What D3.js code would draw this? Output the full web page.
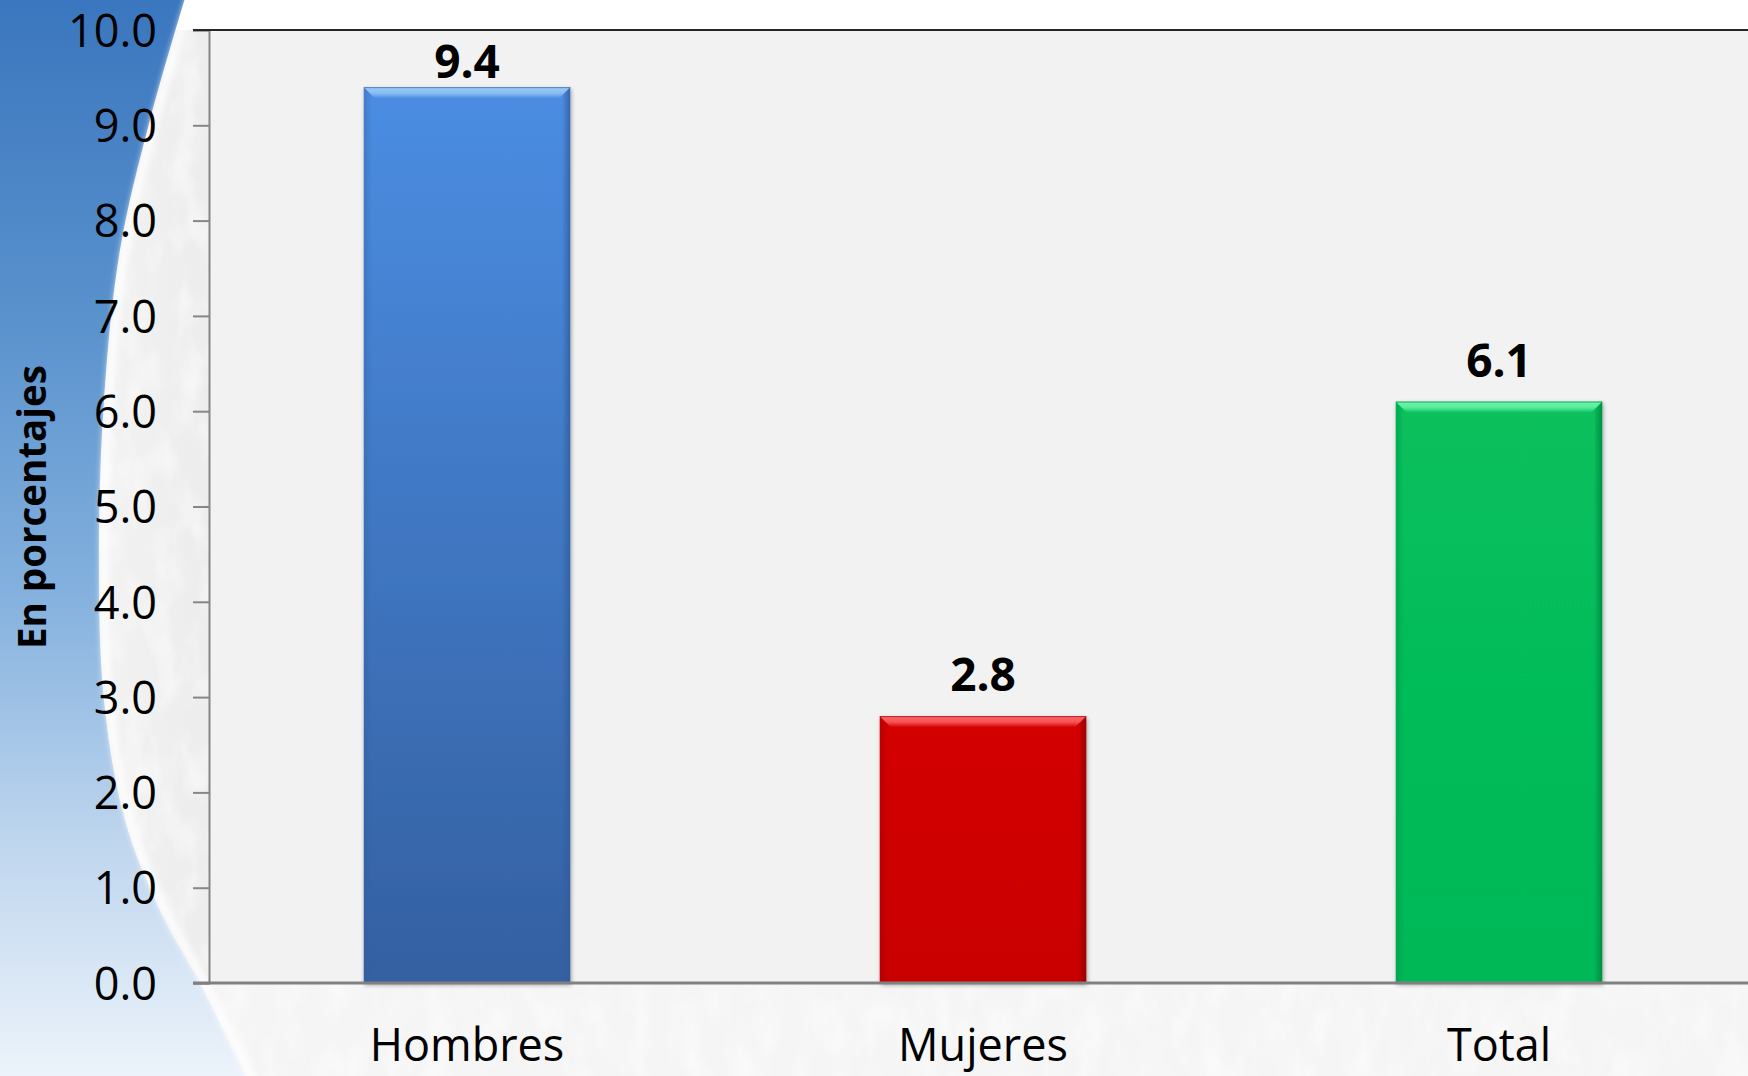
<!DOCTYPE html>
<html>
<head>
<meta charset="utf-8">
<script src="https://cdn.jsdelivr.net/npm/d3@7"></script>
<style>
  html, body { margin: 0; padding: 0; background: #ffffff; overflow: hidden; }
  svg { display: block; }
  text { font-family: "Open Sans", "Noto Sans", sans-serif; }
</style>
</head>
<body>
<svg id="chart" width="1748" height="1076"></svg>
<script>
// ---- data ----
const categories = ["Hombres", "Mujeres", "Total"];
const values = [9.4, 2.8, 6.1];
const yTicks = [0, 1, 2, 3, 4, 5, 6, 7, 8, 9, 10];
const yTitle = "En porcentajes";
const barTop = ["#4b8de2", "#d40000", "#07c05c"];
const barBottom = ["#3460a1", "#c90000", "#05b857"];
const bevelLight = ["#9ccaf8", "#ff6a6a", "#6cf8ac"];
const bevelDark = ["#2f5d9c", "#8c0000", "#03843f"];

const W = 1748, H = 1076;
const plot = { left: 209, top: 30, right: 1757, bottom: 983 };

const svg = d3.select("#chart");
const defs = svg.append("defs");

// ---- background ----
const bg = defs.append("linearGradient").attr("id", "bgBlue")
  .attr("x1", 0).attr("y1", 0).attr("x2", 0).attr("y2", 1);
[["0", "#3a76be"], ["0.3", "#5a92cd"], ["0.55", "#84b1de"], ["0.78", "#bfd6ee"], ["1", "#eef4fb"]]
  .forEach(([o, c]) => bg.append("stop").attr("offset", o).attr("stop-color", c));

const grayG = defs.append("linearGradient").attr("id", "bgGray")
  .attr("x1", 0).attr("y1", 0).attr("x2", 1).attr("y2", 0);
[["0", "#f2f2f2"], ["0.2", "#e2e2e2"], ["1", "#dadada"]]
  .forEach(([o, c]) => grayG.append("stop").attr("offset", o).attr("stop-color", c));

const noise = defs.append("filter").attr("id", "noise").attr("x", 0).attr("y", 0).attr("width", 1).attr("height", 1);
noise.append("feTurbulence").attr("type", "fractalNoise").attr("baseFrequency", "0.04 0.02").attr("numOctaves", 3).attr("seed", 4).attr("result", "t");
noise.append("feColorMatrix").attr("in", "t").attr("type", "matrix")
  .attr("values", "0 0 0 0 1  0 0 0 0 1  0 0 0 0 1  0 0 0 1.1 -0.45").attr("result", "w");
noise.append("feComposite").attr("in", "w").attr("in2", "SourceGraphic").attr("operator", "in").attr("result", "wn");
noise.append("feMerge").call(m => { m.append("feMergeNode").attr("in", "SourceGraphic"); m.append("feMergeNode").attr("in", "wn"); });

const glowF = defs.append("filter").attr("id", "glow").attr("x", "-50%").attr("y", "-5%").attr("width", "200%").attr("height", "110%");
glowF.append("feGaussianBlur").attr("stdDeviation", 3);

const edgePts = [[186, -5], [150, 120], [120, 250], [104, 400], [99, 550], [104, 700], [125, 820], [160, 910], [200, 983], [250, 1085]];
const edgeLine = d3.line().curve(d3.curveCatmullRom);

svg.append("rect").attr("x", 0).attr("y", 0).attr("width", W).attr("height", H).attr("fill", "#ffffff");
svg.append("path")
  .attr("d", edgeLine(edgePts) + `L${W},1085L${W},-5Z`)
  .attr("fill", "url(#bgGray)").attr("filter", "url(#noise)");
svg.append("rect").attr("x", 0).attr("y", plot.bottom).attr("width", W).attr("height", H - plot.bottom)
  .attr("fill", "#f5f5f5").attr("filter", "url(#noise)");
svg.append("rect").attr("x", 0).attr("y", 0).attr("width", W).attr("height", plot.top).attr("fill", "#ffffff");
svg.append("path")
  .attr("d", edgeLine(edgePts) + "L-5,1085L-5,-5Z")
  .attr("fill", "url(#bgBlue)");
svg.append("path")
  .attr("d", edgeLine(edgePts.map(p => [p[0] + 5, p[1]])))
  .attr("fill", "none").attr("stroke", "#ffffff").attr("stroke-width", 8)
  .attr("opacity", 0.85).attr("filter", "url(#glow)");

// ---- scales ----
const x = d3.scaleBand().domain(categories).range([plot.left, plot.right])
  .paddingInner(0.6).paddingOuter(0.3);
const y = d3.scaleLinear().domain([0, 10]).range([plot.bottom, plot.top]);

svg.append("rect").attr("x", plot.left).attr("y", plot.top)
  .attr("width", W - plot.left).attr("height", plot.bottom - plot.top).attr("fill", "#f2f2f2");

// ---- bars ----
categories.forEach((c, i) => {
  const g = defs.append("linearGradient").attr("id", "bar" + i).attr("x1", 0).attr("y1", 0).attr("x2", 0).attr("y2", 1);
  g.append("stop").attr("offset", 0).attr("stop-color", barTop[i]);
  g.append("stop").attr("offset", 1).attr("stop-color", barBottom[i]);
  const s = defs.append("linearGradient").attr("id", "side" + i).attr("x1", 0).attr("y1", 0).attr("x2", 1).attr("y2", 0);
  s.append("stop").attr("offset", 0).attr("stop-color", bevelDark[i]).attr("stop-opacity", 0.35);
  s.append("stop").attr("offset", 0.04).attr("stop-color", bevelDark[i]).attr("stop-opacity", 0);
  s.append("stop").attr("offset", 0.96).attr("stop-color", bevelDark[i]).attr("stop-opacity", 0);
  s.append("stop").attr("offset", 1).attr("stop-color", bevelDark[i]).attr("stop-opacity", 0.8);
  const b = defs.append("linearGradient").attr("id", "bev" + i).attr("x1", 0).attr("y1", 0).attr("x2", 0).attr("y2", 1);
  b.append("stop").attr("offset", 0).attr("stop-color", bevelLight[i]);
  b.append("stop").attr("offset", 0.5).attr("stop-color", bevelLight[i]).attr("stop-opacity", 0.8);
  b.append("stop").attr("offset", 1).attr("stop-color", barTop[i]);
});

const shadowF = defs.append("filter").attr("id", "shadow").attr("x", "-10%").attr("y", "-5%").attr("width", "120%").attr("height", "110%");
shadowF.append("feGaussianBlur").attr("in", "SourceAlpha").attr("stdDeviation", 2).attr("result", "b");
shadowF.append("feOffset").attr("in", "b").attr("dx", 1).attr("dy", 2).attr("result", "o");
shadowF.append("feComponentTransfer").attr("in", "o").attr("result", "o2")
  .append("feFuncA").attr("type", "linear").attr("slope", 0.35);
shadowF.append("feMerge").call(m => { m.append("feMergeNode").attr("in", "o2"); m.append("feMergeNode").attr("in", "SourceGraphic"); });

const bars = svg.append("g").selectAll("g").data(categories).join("g").attr("filter", "url(#shadow)");
bars.append("rect")
  .attr("x", c => x(c)).attr("y", (c, i) => y(values[i]))
  .attr("width", x.bandwidth()).attr("height", (c, i) => y(0) - y(values[i]))
  .attr("fill", (c, i) => `url(#bar${i})`);
bars.append("rect")
  .attr("x", c => x(c)).attr("y", (c, i) => y(values[i]))
  .attr("width", x.bandwidth()).attr("height", (c, i) => y(0) - y(values[i]))
  .attr("fill", (c, i) => `url(#side${i})`);
const bev = 11;
bars.append("path")
  .attr("d", (c, i) => {
    const x0 = x(c), x1 = x(c) + x.bandwidth(), y0 = y(values[i]);
    return `M${x0},${y0}L${x1},${y0}L${x1 - bev},${y0 + bev}L${x0 + bev},${y0 + bev}Z`;
  })
  .attr("fill", (c, i) => `url(#bev${i})`);
bars.append("line")
  .attr("x1", c => x(c)).attr("x2", c => x(c) + x.bandwidth())
  .attr("y1", (c, i) => y(values[i]) + 0.5).attr("y2", (c, i) => y(values[i]) + 0.5)
  .attr("stroke", (c, i) => bevelDark[i]).attr("stroke-width", 1).attr("opacity", 0.6);

// ---- axes ----
const yAxis = d3.axisLeft(y).tickValues(yTicks).tickSize(16).tickPadding(36).tickFormat(d3.format(".1f"));
const gy = svg.append("g").attr("transform", `translate(${plot.left},0)`).call(yAxis);
gy.select(".domain").attr("stroke", "#868686").attr("stroke-width", 2);
gy.selectAll(".tick line").attr("stroke", "#868686").attr("stroke-width", 2);
gy.selectAll(".tick text").attr("fill", "#000").attr("font-size", 45).attr("dy", "0.36em")
  .style("font-family", '"Open Sans", sans-serif');

svg.append("line").attr("x1", plot.left - 16).attr("x2", W).attr("y1", y(10)).attr("y2", y(10))
  .attr("stroke", "#262626").attr("stroke-width", 2);

const xAxis = d3.axisBottom(x).tickSize(0).tickPadding(0);
const gx = svg.append("g").attr("transform", `translate(0,${plot.bottom})`).call(xAxis);
gx.select(".domain").remove();
gx.selectAll(".tick text").attr("fill", "#000").attr("font-size", 45).attr("y", 78).attr("dy", 0)
  .style("font-family", '"Open Sans", sans-serif');
svg.append("line").attr("x1", plot.left - 16).attr("x2", W).attr("y1", y(0)).attr("y2", y(0))
  .attr("stroke", "#808080").attr("stroke-width", 3);

// ---- value labels ----
svg.append("g").selectAll("text").data(categories).join("text")
  .attr("x", c => x(c) + x.bandwidth() / 2)
  .attr("y", (c, i) => Math.max(y(values[i]) - 25, y(10) + 48))
  .attr("text-anchor", "middle").attr("font-size", 46).attr("font-weight", "bold").attr("fill", "#000")
  .text((c, i) => d3.format(".1f")(values[i]));

// ---- y title ----
svg.append("text")
  .attr("transform", `translate(46,507) rotate(-90)`)
  .attr("text-anchor", "middle").attr("font-size", 38.5).attr("font-weight", "bold").attr("fill", "#000")
  .text(yTitle);
</script>
</body>
</html>
